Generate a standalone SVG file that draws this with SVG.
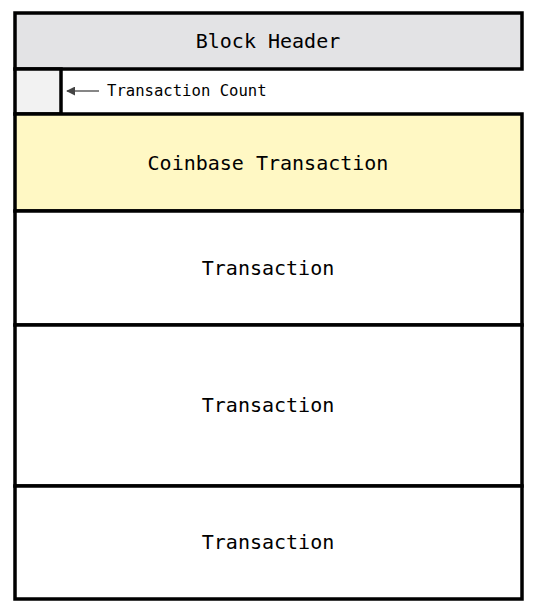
<svg xmlns="http://www.w3.org/2000/svg" width="537" height="609" viewBox="0 0 537 609">
  <defs>
    <style>
      .box { stroke: #000; stroke-width: 3.5; }
      .big { font-family: "DejaVu Sans Mono", "Liberation Mono", monospace; font-size: 20px; fill: #000; text-anchor: middle; dominant-baseline: central; }
      .small { font-family: "DejaVu Sans Mono", "Liberation Mono", monospace; font-size: 15.6px; fill: #000; dominant-baseline: central; }
    </style>
    <marker id="arrow" viewBox="0 0 10 10" refX="9" refY="5" markerWidth="9" markerHeight="9" orient="auto-start-reverse" markerUnits="userSpaceOnUse">
      <path d="M0,0 L10,5 L0,10 z" fill="#444"/>
    </marker>
  </defs>
  <rect width="537" height="609" fill="#fff"/>

  <g id="block-header">
    <rect class="box" x="15" y="13" width="507" height="56" fill="#e3e3e5"/>
    <text class="big" x="268" y="41">Block Header</text>
  </g>

  <g id="transaction-count">
    <rect class="box" x="15" y="69" width="46" height="45" fill="#f2f2f2"/>
    <text class="small" x="107" y="91">Transaction Count</text>
  </g>

  <g id="coinbase-transaction">
    <rect class="box" x="15" y="114" width="507" height="97" fill="#fff8c4"/>
    <text class="big" x="268" y="163">Coinbase Transaction</text>
  </g>

  <g id="transaction-1">
    <rect class="box" x="15" y="211" width="507" height="114" fill="#fff"/>
    <text class="big" x="268" y="268">Transaction</text>
  </g>

  <g id="transaction-2">
    <rect class="box" x="15" y="325" width="507" height="161" fill="#fff"/>
    <text class="big" x="268" y="405">Transaction</text>
  </g>

  <g id="transaction-3">
    <rect class="box" x="15" y="486" width="507" height="113" fill="#fff"/>
    <text class="big" x="268" y="542">Transaction</text>
  </g>

  <g id="connectors">
    <line x1="99" y1="91" x2="67" y2="91" stroke="#444" stroke-width="1.3" marker-end="url(#arrow)"/>
  </g>
</svg>
